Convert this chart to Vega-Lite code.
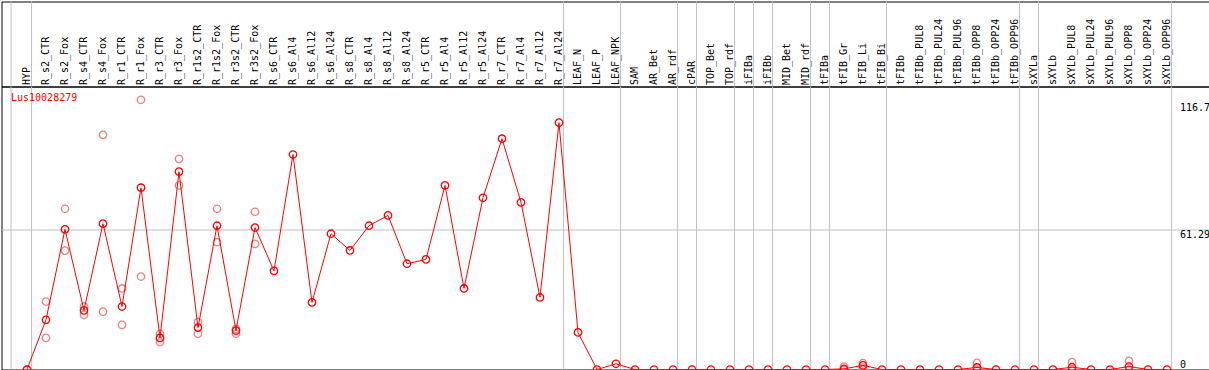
{
  "$schema": "https://vega.github.io/schema/vega-lite/v6.json",
  "background": "white",
  "padding": {"left": 0.5, "top": 0.5, "right": 0.5, "bottom": 1.5},
  "bounds": "flush",
  "config": {"view": {"stroke": "black", "strokeWidth": 1}, "concat": {"spacing": 0}},
  "datasets": {
    "seps": [
      {"pos": -0.84}, {"pos": 0.24}, {"pos": 28.24}, {"pos": 31.24}, {"pos": 34.24},
      {"pos": 35.24}, {"pos": 37.24}, {"pos": 38.24}, {"pos": 39.24}, {"pos": 41.24},
      {"pos": 42.24}, {"pos": 45.24}, {"pos": 52.24}, {"pos": 53.24}, {"pos": 60.24}
    ],
    "means": [
      {"idx": 0, "sample": "HYP", "value": 0},
      {"idx": 1, "sample": "R_s2_CTR", "value": 21.7},
      {"idx": 2, "sample": "R_s2_Fox", "value": 61.2},
      {"idx": 3, "sample": "R_s4_CTR", "value": 25.8},
      {"idx": 4, "sample": "R_s4_Fox", "value": 63.7},
      {"idx": 5, "sample": "R_r1_CTR", "value": 27.5},
      {"idx": 6, "sample": "R_r1_Fox", "value": 79.4},
      {"idx": 7, "sample": "R_r3_CTR", "value": 13.8},
      {"idx": 8, "sample": "R_r3_Fox", "value": 86.4},
      {"idx": 9, "sample": "R_r1s2_CTR", "value": 18.3},
      {"idx": 10, "sample": "R_r1s2_Fox", "value": 62.8},
      {"idx": 11, "sample": "R_r3s2_CTR", "value": 17.0},
      {"idx": 12, "sample": "R_r3s2_Fox", "value": 62.0},
      {"idx": 13, "sample": "R_s6_CTR", "value": 43.1},
      {"idx": 14, "sample": "R_s6_Al4", "value": 93.9},
      {"idx": 15, "sample": "R_s6_Al12", "value": 29.3},
      {"idx": 16, "sample": "R_s6_Al24", "value": 59.3},
      {"idx": 17, "sample": "R_s8_CTR", "value": 52.0},
      {"idx": 18, "sample": "R_s8_Al4", "value": 62.8},
      {"idx": 19, "sample": "R_s8_Al12", "value": 67.3},
      {"idx": 20, "sample": "R_s8_Al24", "value": 46.2},
      {"idx": 21, "sample": "R_r5_CTR", "value": 48.1},
      {"idx": 22, "sample": "R_r5_Al4", "value": 80.4},
      {"idx": 23, "sample": "R_r5_Al12", "value": 35.4},
      {"idx": 24, "sample": "R_r5_Al24", "value": 75.0},
      {"idx": 25, "sample": "R_r7_CTR", "value": 100.8},
      {"idx": 26, "sample": "R_r7_Al4", "value": 73.0},
      {"idx": 27, "sample": "R_r7_Al12", "value": 31.5},
      {"idx": 28, "sample": "R_r7_Al24", "value": 107.8},
      {"idx": 29, "sample": "LEAF_N", "value": 16.2},
      {"idx": 30, "sample": "LEAF_P", "value": 0},
      {"idx": 31, "sample": "LEAF_NPK", "value": 2.5},
      {"idx": 32, "sample": "SAM", "value": 0},
      {"idx": 33, "sample": "AR_Bet", "value": 0},
      {"idx": 34, "sample": "AR_rdf", "value": 0},
      {"idx": 35, "sample": "cPAR", "value": 0},
      {"idx": 36, "sample": "TOP_Bet", "value": 0},
      {"idx": 37, "sample": "TOP_rdf", "value": 0},
      {"idx": 38, "sample": "iFIBa", "value": 0},
      {"idx": 39, "sample": "iFIBb", "value": 0},
      {"idx": 40, "sample": "MID_Bet", "value": 0},
      {"idx": 41, "sample": "MID_rdf", "value": 0},
      {"idx": 42, "sample": "tFIBa", "value": 0},
      {"idx": 43, "sample": "tFIB_Gr", "value": 0.3},
      {"idx": 44, "sample": "tFIB_Li", "value": 1.8},
      {"idx": 45, "sample": "tFIB_Bi", "value": 0},
      {"idx": 46, "sample": "tFIBb", "value": 0},
      {"idx": 47, "sample": "tFIBb_PUL8", "value": 0},
      {"idx": 48, "sample": "tFIBb_PUL24", "value": 0},
      {"idx": 49, "sample": "tFIBb_PUL96", "value": 0},
      {"idx": 50, "sample": "tFIBb_OPP8", "value": 0.9},
      {"idx": 51, "sample": "tFIBb_OPP24", "value": 0},
      {"idx": 52, "sample": "tFIBb_OPP96", "value": 0},
      {"idx": 53, "sample": "sXYLa", "value": 0},
      {"idx": 54, "sample": "sXYLb", "value": 0},
      {"idx": 55, "sample": "sXYLb_PUL8", "value": 1.0},
      {"idx": 56, "sample": "sXYLb_PUL24", "value": 0},
      {"idx": 57, "sample": "sXYLb_PUL96", "value": 0},
      {"idx": 58, "sample": "sXYLb_OPP8", "value": 1.3},
      {"idx": 59, "sample": "sXYLb_OPP24", "value": 0},
      {"idx": 60, "sample": "sXYLb_OPP96", "value": 0}
    ],
    "reps": [
      {"idx": 0, "value": 0}, {"idx": 0, "value": 0},
      {"idx": 1, "value": 29.7}, {"idx": 1, "value": 13.8},
      {"idx": 2, "value": 70.2}, {"idx": 2, "value": 51.9},
      {"idx": 3, "value": 27.5}, {"idx": 3, "value": 23.9},
      {"idx": 4, "value": 102.5}, {"idx": 4, "value": 25.3},
      {"idx": 5, "value": 35.4}, {"idx": 5, "value": 19.5},
      {"idx": 6, "value": 117.8}, {"idx": 6, "value": 40.6},
      {"idx": 7, "value": 15.6}, {"idx": 7, "value": 11.9},
      {"idx": 8, "value": 92.0}, {"idx": 8, "value": 80.4},
      {"idx": 9, "value": 20.7}, {"idx": 9, "value": 15.6},
      {"idx": 10, "value": 70.2}, {"idx": 10, "value": 55.6},
      {"idx": 11, "value": 17.8}, {"idx": 11, "value": 15.6},
      {"idx": 12, "value": 68.9}, {"idx": 12, "value": 54.9},
      {"idx": 43, "value": 1.3}, {"idx": 43, "value": 0},
      {"idx": 44, "value": 2.8}, {"idx": 44, "value": 0.8},
      {"idx": 50, "value": 2.9}, {"idx": 50, "value": 0},
      {"idx": 55, "value": 3.2}, {"idx": 55, "value": 0},
      {"idx": 58, "value": 3.8}, {"idx": 58, "value": 0}
    ]
  },
  "vconcat": [
    {
      "width": 1208,
      "height": 85,
      "data": {"name": "seps"},
      "mark": {"type": "rule", "color": "#c0c0c0", "strokeWidth": 1},
      "encoding": {
        "x": {
          "field": "pos",
          "type": "quantitative",
          "scale": {"domain": [-1.342, 62.237], "nice": false, "zero": false},
          "axis": {
            "orient": "top",
            "offset": -85,
            "values": [0,1,2,3,4,5,6,7,8,9,10,11,12,13,14,15,16,17,18,19,20,21,22,23,24,25,26,27,28,29,30,31,32,33,34,35,36,37,38,39,40,41,42,43,44,45,46,47,48,49,50,51,52,53,54,55,56,57,58,59,60],
            "labelExpr": "['HYP','R_s2_CTR','R_s2_Fox','R_s4_CTR','R_s4_Fox','R_r1_CTR','R_r1_Fox','R_r3_CTR','R_r3_Fox','R_r1s2_CTR','R_r1s2_Fox','R_r3s2_CTR','R_r3s2_Fox','R_s6_CTR','R_s6_Al4','R_s6_Al12','R_s6_Al24','R_s8_CTR','R_s8_Al4','R_s8_Al12','R_s8_Al24','R_r5_CTR','R_r5_Al4','R_r5_Al12','R_r5_Al24','R_r7_CTR','R_r7_Al4','R_r7_Al12','R_r7_Al24','LEAF_N','LEAF_P','LEAF_NPK','SAM','AR_Bet','AR_rdf','cPAR','TOP_Bet','TOP_rdf','iFIBa','iFIBb','MID_Bet','MID_rdf','tFIBa','tFIB_Gr','tFIB_Li','tFIB_Bi','tFIBb','tFIBb_PUL8','tFIBb_PUL24','tFIBb_PUL96','tFIBb_OPP8','tFIBb_OPP24','tFIBb_OPP96','sXYLa','sXYLb','sXYLb_PUL8','sXYLb_PUL24','sXYLb_PUL96','sXYLb_OPP8','sXYLb_OPP24','sXYLb_OPP96'][datum.value]",
            "labelAngle": -90,
            "labelAlign": "left",
            "labelBaseline": "middle",
            "labelFont": "DejaVu Sans Mono",
            "labelFontSize": 10,
            "labelColor": "black",
            "labelPadding": 2,
            "ticks": false,
            "domain": false,
            "grid": false,
            "title": null,
            "labelOverlap": false,
            "labelBound": false,
            "labelFlush": false
          }
        }
      }
    },
    {
      "width": 1208,
      "height": 283,
      "title": {"text": "Lus10028279", "anchor": "start", "orient": "top", "frame": "group", "offset": -17, "dx": 9.5, "color": "red", "font": "DejaVu Sans Mono", "fontSize": 10, "fontWeight": "normal"},
      "layer": [
        {
          "data": {"name": "seps"},
          "mark": {"type": "rule", "color": "#c0c0c0", "strokeWidth": 1},
          "encoding": {
            "x": {"field": "pos", "type": "quantitative", "scale": {"domain": [-1.342, 62.237], "nice": false, "zero": false}, "axis": null}
          }
        },
        {
          "data": {"name": "reps"},
          "mark": {"type": "point", "shape": "circle", "filled": false, "color": "#f08080", "size": 55, "strokeWidth": 1.3, "opacity": 1},
          "encoding": {
            "x": {"field": "idx", "type": "quantitative", "axis": null},
            "y": {
              "field": "value",
              "type": "quantitative",
              "scale": {"domain": [0, 123.6], "nice": false},
              "axis": {
                "orient": "right",
                "offset": -30,
                "values": [0, 61.29, 116.7],
                "format": ".4~g",
                "labelFont": "DejaVu Sans Mono",
                "labelFontSize": 10,
                "labelColor": "black",
                "labelPadding": 0,
                "labelAlign": "left",
                "labelBaseline": {"condition": {"test": "datum.value === 0", "value": "bottom"}, "value": "top"},
                "ticks": false,
                "domain": false,
                "grid": true,
                "gridColor": "#c0c0c0",
                "gridWidth": 1,
                "gridOpacity": {"condition": {"test": "datum.value === 61.29", "value": 1}, "value": 0},
                "title": null,
                "labelFlush": false,
                "labelOverlap": false,
                "labelBound": false
              }
            }
          }
        },
        {
          "data": {"name": "means"},
          "mark": {"type": "line", "color": "red", "strokeWidth": 1},
          "encoding": {
            "x": {"field": "idx", "type": "quantitative", "axis": null},
            "y": {"field": "value", "type": "quantitative"}
          }
        },
        {
          "data": {"name": "means"},
          "mark": {"type": "point", "shape": "circle", "filled": false, "color": "red", "size": 55, "strokeWidth": 1.3, "opacity": 1},
          "encoding": {
            "x": {"field": "idx", "type": "quantitative", "axis": null},
            "y": {"field": "value", "type": "quantitative"}
          }
        }
      ]
    }
  ]
}
